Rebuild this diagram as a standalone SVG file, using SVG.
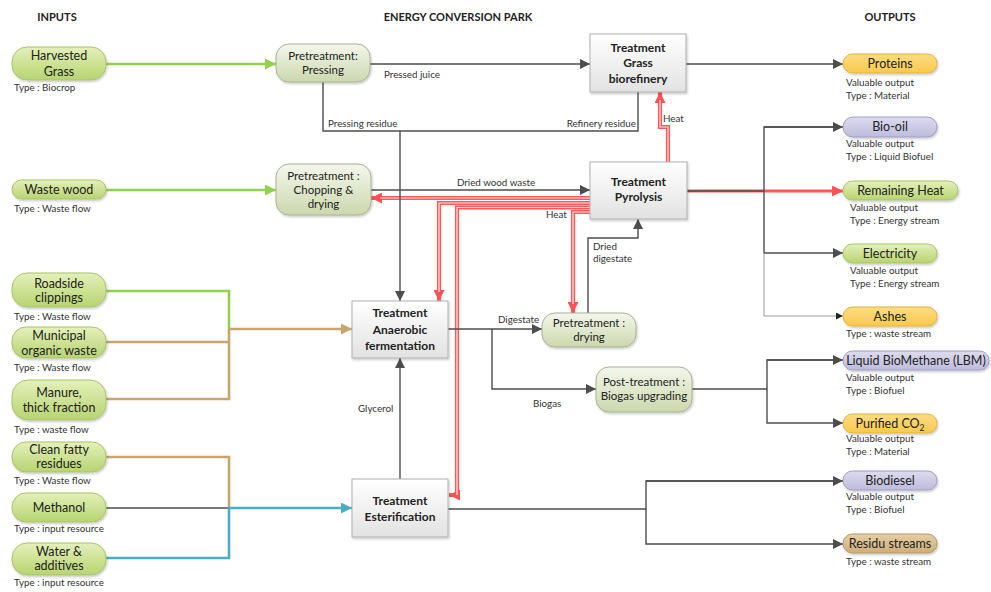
<svg xmlns="http://www.w3.org/2000/svg" width="991" height="592" viewBox="0 0 991 592">
  <defs>
    <linearGradient id="gIn" x1="0" y1="0" x2="0" y2="1">
      <stop offset="0" stop-color="#e4f0ba"/>
      <stop offset="1" stop-color="#b7d470"/>
    </linearGradient>
    <linearGradient id="gPre" x1="0" y1="0" x2="0" y2="1">
      <stop offset="0" stop-color="#f4f7ec"/>
      <stop offset="1" stop-color="#cbd8ad"/>
    </linearGradient>
    <linearGradient id="gBox" x1="0" y1="0" x2="0" y2="1">
      <stop offset="0" stop-color="#ffffff"/>
      <stop offset="1" stop-color="#e2e2e2"/>
    </linearGradient>
    <linearGradient id="gOr" x1="0" y1="0" x2="0" y2="1">
      <stop offset="0" stop-color="#fddc84"/>
      <stop offset="1" stop-color="#f9c94c"/>
    </linearGradient>
    <linearGradient id="gLav" x1="0" y1="0" x2="0" y2="1">
      <stop offset="0" stop-color="#dcdbee"/>
      <stop offset="1" stop-color="#bebcdc"/>
    </linearGradient>
    <linearGradient id="gTan" x1="0" y1="0" x2="0" y2="1">
      <stop offset="0" stop-color="#e5cfa6"/>
      <stop offset="1" stop-color="#cfae78"/>
    </linearGradient>
    <filter id="sh" x="-10%" y="-10%" width="125%" height="135%">
      <feDropShadow dx="1" dy="1.5" stdDeviation="1.2" flood-color="#000" flood-opacity="0.22"/>
    </filter>
    <marker id="aGray" viewBox="0 0 10 10" refX="10" refY="5" markerWidth="10" markerHeight="10" markerUnits="userSpaceOnUse" orient="auto">
      <path d="M0,0 L10,5 L0,10 z" fill="#4d4d4d"/>
    </marker>
    <marker id="aSmall" viewBox="0 0 10 10" refX="10" refY="5" markerWidth="7" markerHeight="7" markerUnits="userSpaceOnUse" orient="auto">
      <path d="M0,0 L10,5 L0,10 z" fill="#222"/>
    </marker>
    <marker id="aGreen" viewBox="0 0 10 10" refX="10" refY="5" markerWidth="11" markerHeight="11" markerUnits="userSpaceOnUse" orient="auto">
      <path d="M0,0 L10,5 L0,10 z" fill="#92d050"/>
    </marker>
    <marker id="aBrown" viewBox="0 0 10 10" refX="10" refY="5" markerWidth="11" markerHeight="11" markerUnits="userSpaceOnUse" orient="auto">
      <path d="M0,0 L10,5 L0,10 z" fill="#c8a56c"/>
    </marker>
    <marker id="aBlue" viewBox="0 0 10 10" refX="10" refY="5" markerWidth="11" markerHeight="11" markerUnits="userSpaceOnUse" orient="auto">
      <path d="M0,0 L10,5 L0,10 z" fill="#4bacc6"/>
    </marker>
    <marker id="aRed" viewBox="0 0 10 10" refX="10" refY="5" markerWidth="11" markerHeight="11" markerUnits="userSpaceOnUse" orient="auto">
      <path d="M0,0 L10,5 L0,10 z" fill="#ff5252"/>
    </marker>
  </defs>
  <style>
    text { font-family: Lato, "Open Sans", "Liberation Sans", sans-serif; fill: #222; }
    .hdr { font-size: 11px; font-weight: bold; text-anchor: middle; }
    .nt { font-size: 12.5px; text-anchor: middle; }
    .pt { font-size: 11.5px; text-anchor: middle; }
    .bt { font-size: 12px; font-weight: bold; text-anchor: middle; }
    .ty { font-size: 9.8px; fill: #333; }
    .lbl { font-size: 9.8px; fill: #333; }
    .in { fill: url(#gIn); stroke: #a8c46a; stroke-width: 1; filter: url(#sh); }
    .pre { fill: url(#gPre); stroke: #a9b295; stroke-width: 1; filter: url(#sh); }
    .box { fill: url(#gBox); stroke: #b0b0b0; stroke-width: 1; filter: url(#sh); }
    .og { fill: url(#gIn); stroke: #a8c46a; stroke-width: 1; filter: url(#sh); }
    .oo { fill: url(#gOr); stroke: #e3b33f; stroke-width: 1; filter: url(#sh); }
    .ol { fill: url(#gLav); stroke: #a19ec6; stroke-width: 1; filter: url(#sh); }
    .ot { fill: url(#gTan); stroke: #b69866; stroke-width: 1; filter: url(#sh); }
    .ln { fill: none; stroke: #4d4d4d; stroke-width: 1.4; }
    .thin { fill: none; stroke: #9a9a9a; stroke-width: 1; }
    .gr { fill: none; stroke: #92d050; stroke-width: 2.6; }
    .br { fill: none; stroke: #c8a56c; stroke-width: 2.6; }
    .bl { fill: none; stroke: #4bacc6; stroke-width: 2.6; }
    .heat { fill: none; stroke: #ff5858; stroke-width: 4.2; }
    .heatc { fill: none; stroke: #ffe4e4; stroke-width: 1.2; }
    .heato { fill: none; stroke: #ff5858; stroke-width: 3; }
  </style>

  <!-- column headers -->
  <text class="hdr" x="57" y="21">INPUTS</text>
  <text class="hdr" x="458" y="21">ENERGY CONVERSION PARK</text>
  <text class="hdr" x="890" y="21">OUTPUTS</text>

  <g id="connectors">
    <!-- input feeds -->
    <path class="gr" d="M106,64 H276" marker-end="url(#aGreen)"/>
    <path class="gr" d="M106,190 H276" marker-end="url(#aGreen)"/>
    <path class="gr" d="M106,291 H229 V329"/>
    <path class="br" d="M106,342 H229"/>
    <path class="br" d="M106,399 H229 V329"/>
    <path class="br" d="M229,329 H352" marker-end="url(#aBrown)"/>
    <path class="br" d="M106,457 H229 V508"/>
    <path class="ln" d="M106,508 H229"/>
    <path class="bl" d="M106,558 H229 V508 H352" marker-end="url(#aBlue)"/>

    <!-- grass line -->
    <path class="ln" d="M370,64 H590" marker-end="url(#aGray)"/>
    <text class="lbl" x="384" y="78">Pressed juice</text>
    <path class="ln" d="M323,82 V131 H638 V92"/>
    <text class="lbl" x="328" y="127">Pressing residue</text>
    <text class="lbl" x="636" y="127" text-anchor="end">Refinery residue</text>
    <path class="ln" d="M686,64 H843" marker-end="url(#aGray)"/>

    <!-- wood line -->
    <path class="ln" d="M371,190 H590" marker-end="url(#aGray)"/>
    <text class="lbl" x="496" y="186" text-anchor="middle">Dried wood waste</text>

    <!-- heat distribution from pyrolysis -->
    <path class="heat" d="M668,162 V127 H660 V92" marker-end="url(#aRed)"/>
    <path class="heatc" d="M668,162 V127 H660 V100"/>
    <text class="lbl" x="663" y="122">Heat</text>
    <path class="heat" d="M590,198 H371" marker-end="url(#aRed)"/>
    <path class="heatc" d="M590,198 H380"/>
    <path class="heat" d="M590,203 H439 V301" marker-end="url(#aRed)"/>
    <path class="heatc" d="M590,203 H439 V292"/>
    <path class="heat" d="M590,207.5 H457 V495 H449" marker-end="url(#aRed)"/>
    <path class="heatc" d="M590,207.5 H457 V495"/>
    <path class="heat" d="M590,212 H573 V313" marker-end="url(#aRed)"/>
    <path class="heatc" d="M590,212 H573 V304"/>
    <text class="lbl" x="546" y="218">Heat</text>

    <!-- residues down to fermentation -->
    <path class="ln" d="M400,131 V301" marker-end="url(#aGray)"/>

    <!-- digestate loop -->
    <path class="ln" d="M448,329 H542" marker-end="url(#aGray)"/>
    <text class="lbl" x="498" y="323">Digestate</text>
    <path class="ln" d="M588,313 V238 H638 V219" marker-end="url(#aGray)"/>
    <text class="lbl" x="593" y="250">Dried</text>
    <text class="lbl" x="593" y="262">digestate</text>
    <path class="ln" d="M492,329 V389 H596" marker-end="url(#aGray)"/>
    <text class="lbl" x="533" y="407">Biogas</text>

    <!-- glycerol -->
    <path class="ln" d="M400,479 V358" marker-end="url(#aGray)"/>
    <text class="lbl" x="358" y="412">Glycerol</text>

    <!-- pyrolysis outputs -->
    <path class="heato" d="M687,191 H843" marker-end="url(#aRed)"/>
    <path class="ln" d="M687,191 H764" stroke="#3a2a2a"/>
    <path class="ln" d="M843,127 H764 V253 H843" marker-end="url(#aGray)"/>
    <path class="ln" d="M764,127 H843" marker-end="url(#aGray)"/>
    <path class="thin" d="M764,253 V316 H843" marker-end="url(#aSmall)"/>

    <!-- biogas upgrading outputs -->
    <path class="ln" d="M692,389 H767"/>
    <path class="ln" d="M843,360 H767 V423 H843" marker-end="url(#aGray)"/>
    <path class="ln" d="M767,360 H843" marker-end="url(#aGray)"/>

    <!-- esterification outputs -->
    <path class="ln" d="M448,509 H646"/>
    <path class="ln" d="M843,481 H646 V544 H843" marker-end="url(#aGray)"/>
    <path class="ln" d="M646,481 H843" marker-end="url(#aGray)"/>
  </g>

  <!-- inputs -->
  <g id="in-grass">
    <rect class="in" x="12" y="47" width="94" height="33" rx="15"/>
    <text class="nt" x="59" y="60">Harvested</text>
    <text class="nt" x="59" y="76">Grass</text>
    <text class="ty" x="14" y="91">Type : Biocrop</text>
  </g>
  <g id="in-wood">
    <rect class="in" x="12" y="180" width="94" height="19" rx="9.5"/>
    <text class="nt" x="59" y="194">Waste wood</text>
    <text class="ty" x="14" y="212">Type : Waste flow</text>
  </g>
  <g id="in-roadside">
    <rect class="in" x="12" y="273" width="94" height="34" rx="15"/>
    <text class="nt" x="59" y="288">Roadside</text>
    <text class="nt" x="59" y="302">clippings</text>
    <text class="ty" x="14" y="320">Type : Waste flow</text>
  </g>
  <g id="in-municipal">
    <rect class="in" x="12" y="327" width="94" height="31" rx="14"/>
    <text class="nt" x="59" y="340">Municipal</text>
    <text class="nt" x="59" y="355">organic waste</text>
    <text class="ty" x="14" y="371">Type : Waste flow</text>
  </g>
  <g id="in-manure">
    <rect class="in" x="12" y="380" width="94" height="40" rx="16"/>
    <text class="nt" x="59" y="397">Manure,</text>
    <text class="nt" x="59" y="412">thick fraction</text>
    <text class="ty" x="14" y="433">Type : waste flow</text>
  </g>
  <g id="in-fatty">
    <rect class="in" x="12" y="442" width="94" height="30" rx="14"/>
    <text class="nt" x="59" y="454">Clean fatty</text>
    <text class="nt" x="59" y="468">residues</text>
    <text class="ty" x="14" y="484">Type : Waste flow</text>
  </g>
  <g id="in-methanol">
    <rect class="in" x="12" y="493" width="94" height="29" rx="14"/>
    <text class="nt" x="59" y="512">Methanol</text>
    <text class="ty" x="14" y="532">Type : input resource</text>
  </g>
  <g id="in-water">
    <rect class="in" x="12" y="543" width="94" height="32" rx="15"/>
    <text class="nt" x="59" y="556">Water &amp;</text>
    <text class="nt" x="59" y="570">additives</text>
    <text class="ty" x="14" y="586">Type : input resource</text>
  </g>

  <!-- conversion park -->
  <g id="pre-pressing">
    <rect class="pre" x="276" y="44" width="94" height="38" rx="13"/>
    <text class="pt" x="323" y="60">Pretreatment:</text>
    <text class="pt" x="323" y="74">Pressing</text>
  </g>
  <g id="grass-biorefinery">
    <rect class="box" x="590" y="34" width="96" height="58"/>
    <text class="bt" x="638" y="52">Treatment</text>
    <text class="bt" x="638" y="67">Grass</text>
    <text class="bt" x="638" y="83">biorefinery</text>
  </g>
  <g id="pre-chopping">
    <rect class="pre" x="276" y="164" width="95" height="51" rx="13"/>
    <text class="pt" x="323.5" y="180">Pretreatment :</text>
    <text class="pt" x="323.5" y="194">Chopping &amp;</text>
    <text class="pt" x="323.5" y="208">drying</text>
  </g>
  <g id="pyrolysis">
    <rect class="box" x="590" y="162" width="97" height="57"/>
    <text class="bt" x="638.5" y="186">Treatment</text>
    <text class="bt" x="638.5" y="201">Pyrolysis</text>
  </g>
  <g id="anaerobic">
    <rect class="box" x="352" y="301" width="96" height="57"/>
    <text class="bt" x="400" y="317">Treatment</text>
    <text class="bt" x="400" y="334">Anaerobic</text>
    <text class="bt" x="400" y="350">fermentation</text>
  </g>
  <g id="pre-drying">
    <rect class="pre" x="542" y="313" width="94" height="34" rx="13"/>
    <text class="pt" x="589" y="327">Pretreatment :</text>
    <text class="pt" x="589" y="341">drying</text>
  </g>
  <g id="post-biogas">
    <rect class="pre" x="596" y="367" width="96" height="45" rx="13"/>
    <text class="pt" x="644" y="386">Post-treatment :</text>
    <text class="pt" x="644" y="400">Biogas upgrading</text>
  </g>
  <g id="esterification">
    <rect class="box" x="352" y="479" width="96" height="58"/>
    <text class="bt" x="400" y="505">Treatment</text>
    <text class="bt" x="400" y="521">Esterification</text>
  </g>

  <!-- outputs -->
  <g id="out-proteins">
    <rect class="oo" x="843" y="54" width="94" height="19" rx="9.5"/>
    <text class="nt" x="890" y="68">Proteins</text>
    <text class="ty" x="846" y="86">Valuable output</text>
    <text class="ty" x="846" y="99">Type : Material</text>
  </g>
  <g id="out-biooil">
    <rect class="ol" x="843" y="117" width="94" height="20" rx="10"/>
    <text class="nt" x="890" y="131">Bio-oil</text>
    <text class="ty" x="846" y="147">Valuable output</text>
    <text class="ty" x="846" y="160">Type : Liquid Biofuel</text>
  </g>
  <g id="out-heat">
    <rect class="og" x="843" y="181" width="115" height="19" rx="9.5"/>
    <text class="nt" x="900.5" y="195">Remaining Heat</text>
    <text class="ty" x="850" y="211">Valuable output</text>
    <text class="ty" x="850" y="224">Type : Energy stream</text>
  </g>
  <g id="out-electricity">
    <rect class="og" x="843" y="244" width="94" height="19" rx="9.5"/>
    <text class="nt" x="890" y="258">Electricity</text>
    <text class="ty" x="850" y="274">Valuable output</text>
    <text class="ty" x="850" y="287">Type : Energy stream</text>
  </g>
  <g id="out-ashes">
    <rect class="oo" x="843" y="307" width="94" height="19" rx="9.5"/>
    <text class="nt" x="890" y="321">Ashes</text>
    <text class="ty" x="846" y="337">Type : waste stream</text>
  </g>
  <g id="out-lbm">
    <rect class="ol" x="843" y="351" width="146" height="19" rx="9.5"/>
    <text class="nt" x="916" y="365">Liquid BioMethane (LBM)</text>
    <text class="ty" x="846" y="381">Valuable output</text>
    <text class="ty" x="846" y="394">Type : Biofuel</text>
  </g>
  <g id="out-co2">
    <rect class="oo" x="843" y="414" width="94" height="19" rx="9.5"/>
    <text class="nt" x="890" y="428">Purified CO<tspan font-size="8.5" dy="2.5">2</tspan></text>
    <text class="ty" x="846" y="442">Valuable output</text>
    <text class="ty" x="846" y="455">Type : Material</text>
  </g>
  <g id="out-biodiesel">
    <rect class="ol" x="843" y="471" width="94" height="19" rx="9.5"/>
    <text class="nt" x="890" y="485">Biodiesel</text>
    <text class="ty" x="846" y="500">Valuable output</text>
    <text class="ty" x="846" y="513">Type : Biofuel</text>
  </g>
  <g id="out-residu">
    <rect class="ot" x="843" y="534" width="94" height="19" rx="9.5"/>
    <text class="nt" x="890" y="548">Residu streams</text>
    <text class="ty" x="846" y="565">Type : waste stream</text>
  </g>
</svg>
